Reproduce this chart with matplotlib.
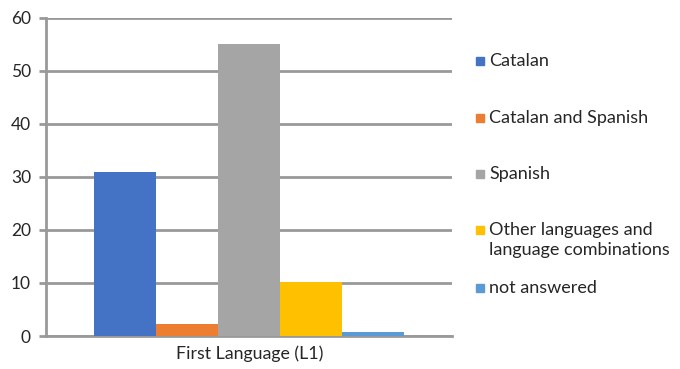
import matplotlib.pyplot as plt
from matplotlib.patches import Rectangle

# values
categories = ['Catalan', 'Catalan and Spanish', 'Spanish',
              'Other languages and\nlanguage combinations', 'not answered']
values = [31, 2.2, 55, 10.2, 0.7]
colors = ['#4472C4', '#ED7D31', '#A5A5A5', '#FFC000', '#5B9BD5']
y_ticks = [0, 10, 20, 30, 40, 50, 60]
x_label = 'First Language (L1)'

plt.rcParams['font.family'] = ['Lato', 'DejaVu Sans']
text_color = '#262626'
grid_color = '#999999'

fig = plt.figure(figsize=(6.8, 3.69), dpi=100)
ax = fig.add_axes([0.068, 0.0894, 0.597, 0.862])

positions = range(len(values))
ax.bar(positions, values, width=1.0, color=colors, zorder=3)

ax.set_xlim(-1.27, len(values) - 1 + 1.27)
ax.set_ylim(0, 60)
ax.set_yticks(y_ticks)
ax.set_xticks([])
ax.yaxis.grid(True, color=grid_color, linewidth=2, zorder=0)
ax.tick_params(axis='y', colors=grid_color, labelcolor=text_color,
               labelsize=12.5, length=5, width=2, pad=6)

for side in ['top', 'right']:
    ax.spines[side].set_visible(False)
ax.spines['left'].set_color(grid_color)
ax.spines['left'].set_linewidth(2)
ax.spines['bottom'].set_color(grid_color)
ax.spines['bottom'].set_linewidth(2)

ax.set_xlabel(x_label, fontsize=12.8, color=text_color, labelpad=7)

# legend drawn by hand so the two-line entry lines up like the original
legend_y = [61, 118, 174, 230, 288]
for label, color, y in zip(categories, colors, legend_y):
    fy = 1 - y / 369
    fig.patches.append(Rectangle((476 / 680, fy - 4 / 369), 8 / 680, 8 / 369,
                                 transform=fig.transFigure, color=color))
    fig.text(489 / 680, fy + 8 / 369, label, fontsize=13, color=text_color,
             va='top', ha='left', linespacing=1.3)

fig.savefig('out.png', dpi=100)
